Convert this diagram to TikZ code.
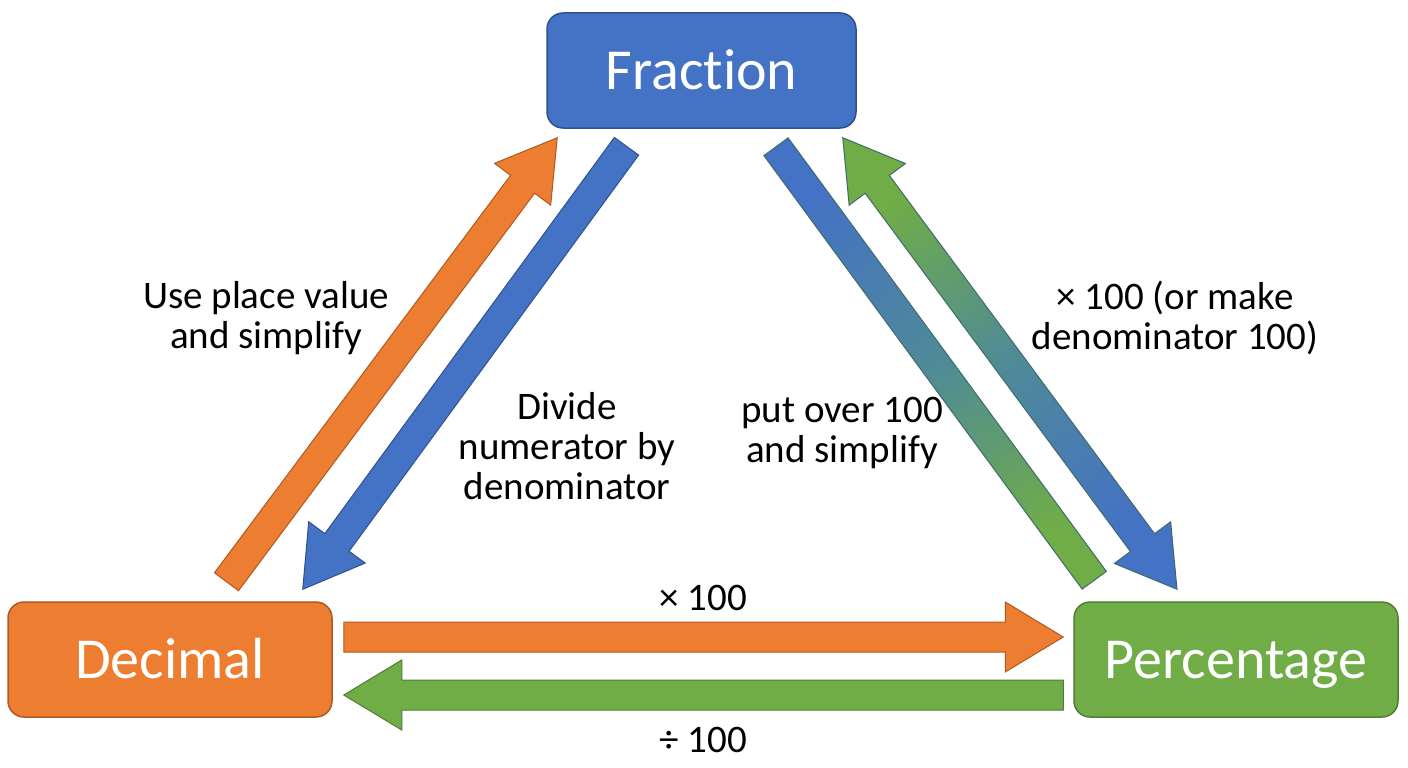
\documentclass[tikz,border=0pt]{standalone}
\usepackage{fontspec}
\setmainfont{Carlito}[Ligatures=NoCommon]
\usetikzlibrary{calc}
\definecolor{fracblue}{HTML}{4472C4}
\definecolor{fracedge}{HTML}{2F528F}
\definecolor{decorange}{HTML}{ED7D31}
\definecolor{decedge}{HTML}{AE5A21}
\definecolor{pctgreen}{HTML}{70AD47}
\definecolor{pctedge}{HTML}{507E32}
\definecolor{midteal}{HTML}{4F8A98}
\definecolor{midedge}{HTML}{3E6A6A}

\begin{document}
\begin{tikzpicture}[x=1pt,y=-1pt,
	box/.style={rounded corners=16pt,line width=1.5pt,minimum width=309pt,minimum height=115pt,text=white,font=\fontsize{58}{60}\selectfont,text height=37pt,text depth=0pt},
	note/.style={align=center,font=\fontsize{39}{40}\selectfont}]
	\fill[white] (0,0) rectangle (1408,768);
	\node[box,fill=fracblue,draw=fracedge] (frac) at (701.5,70.5) {Fraction};
	\node[box,fill=decorange,draw=decedge,minimum width=324pt] (dec) at (170,659.5) {Decimal};
	\node[box,fill=pctgreen,draw=pctedge,minimum width=324pt] (pct) at (1236,659.5) {Percentage};
	\coordinate (dt) at ($(dec.north)+(56.5,-19.5)$);
	\coordinate (dh) at ($(frac.south west)+(11,9)$);
	\coordinate (bt) at ($(frac.south)+(-75,17.5)$);
	\coordinate (bh) at ($(dec.north east)+(-30,-12)$);
	\coordinate (lt) at ($(frac.south)+(74.5,18)$);
	\coordinate (lb) at ($(pct.north west)+(21,-21)$);
	\coordinate (rt) at ($(frac.south east)+(-14,9)$);
	\coordinate (rb) at ($(pct.north)+(-59,-12)$);
	\coordinate (ot) at ($(dec.east)+(11,-22.5)$);
	\coordinate (oh) at ($(pct.west)+(-10,-22.5)$);
	\coordinate (gt) at ($(pct.west)+(-10,35.5)$);
	\coordinate (gh) at ($(dec.east)+(11,35.5)$);
	\foreach \s/\e/\f/\d in {dt/dh/decorange/decedge,bt/bh/fracblue/fracedge,ot/oh/decorange/decedge,gt/gh/pctgreen/pctedge} {
		\coordinate (c) at ($(\e)!58pt!(\s)$);
		\filldraw[fill=\f,draw=\d,line width=1pt,line join=miter] ($(\s)!15pt!90:(\e)$) -- ($(c)!15pt!90:(\e)$) -- ($(c)!35pt!90:(\e)$) -- (\e) -- ($(c)!35pt!-90:(\e)$) -- ($(c)!15pt!-90:(\e)$) -- ($(\s)!15pt!-90:(\e)$) -- cycle;
	}
	\shadedraw[top color=fracblue,bottom color=pctgreen,middle color=midteal,shading angle=36,draw=midedge,line width=1pt,line join=miter] ($(lt)!15pt!90:(lb)$) -- ($(lb)!15pt!-90:(lt)$) -- ($(lb)!15pt!90:(lt)$) -- ($(lt)!15pt!-90:(lb)$) -- cycle;
	\coordinate (ra) at ($(rt)!58pt!(rb)$);
	\coordinate (rc) at ($(rb)!58pt!(rt)$);
	\shadedraw[top color=pctgreen,bottom color=fracblue,middle color=midteal,shading angle=36,draw=midedge,line width=1pt,line join=miter] (rt) -- ($(ra)!35pt!90:(rb)$) -- ($(ra)!15pt!90:(rb)$) -- ($(rc)!15pt!90:(rb)$) -- ($(rc)!35pt!90:(rb)$) -- (rb) -- ($(rc)!35pt!-90:(rb)$) -- ($(rc)!15pt!-90:(rb)$) -- ($(ra)!15pt!-90:(rb)$) -- ($(ra)!35pt!-90:(rb)$) -- cycle;
	\node[note] (use) at (266,318) {Use place value\\and simplify};
	\node[note] (divide) at (567,446) {Divide\\numerator by\\denominator};
	\node[note] (putover) at (842,433) {put over 100\\and simplify};
	\node[note] (times) at (1175,318) {× 100 (or make\\denominator 100)};
	\node[note] (dtop) at (703,598) {× 100};
	\node[note] (pdec) at (703,740) {÷ 100};
\end{tikzpicture}
\end{document}
